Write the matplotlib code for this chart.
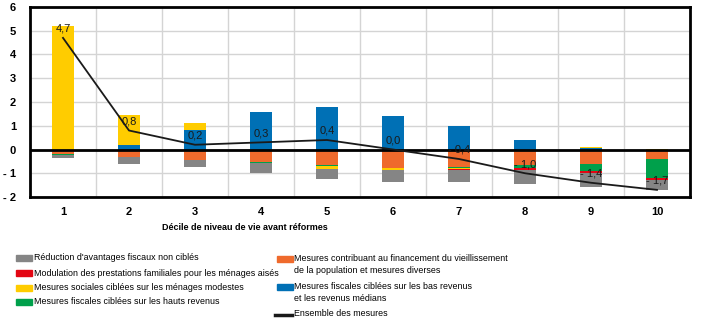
import matplotlib
matplotlib.use("Agg")
import matplotlib.pyplot as plt
from matplotlib.patches import Rectangle
from matplotlib.lines import Line2D
import numpy as np

plt.rcParams['font.family'] = ['Liberation Sans', 'DejaVu Sans']

# deciles of living standard
deciles = ['1', '2', '3', '4', '5', '6', '7', '8', '9', '10']

# contributions by type of measure (points of living standard)
reduction = [-0.12, -0.28, -0.31, -0.42, -0.44, -0.52, -0.52, -0.60, -0.56, -0.42]
modulation = [-0.02, 0, 0, 0, 0, 0, -0.05, -0.10, -0.09, -0.11]
sociales = [5.22, 1.25, 0.26, 0, -0.10, -0.06, -0.05, 0, 0.04, 0.03]
hauts_rev = [-0.03, 0, 0, -0.04, -0.04, -0.03, -0.04, -0.10, -0.31, -0.80]
vieillissement = [-0.20, -0.32, -0.43, -0.52, -0.67, -0.76, -0.72, -0.67, -0.60, -0.39]
bas_rev = [0, 0.21, 0.84, 1.56, 1.77, 1.43, 0.97, 0.38, 0.06, 0]
ensemble = [4.7, 0.8, 0.2, 0.3, 0.4, 0.0, -0.4, -1.0, -1.4, -1.7]

c_gray = '#858585'
c_red = '#e30613'
c_yellow = '#ffcc00'
c_green = '#00a04b'
c_orange = '#ef6a2c'
c_blue = '#0070b5'

fig = plt.figure(figsize=(7.19, 3.24), dpi=100)
ax = fig.add_axes([30 / 719, 127 / 324, 660 / 719, 190 / 324])

x = np.arange(len(deciles))
width = 0.32

# stacking order away from zero
series = [
    (vieillissement, c_orange),
    (bas_rev, c_blue),
    (hauts_rev, c_green),
    (sociales, c_yellow),
    (modulation, c_red),
    (reduction, c_gray),
]
pos_bottom = np.zeros(len(x))
neg_bottom = np.zeros(len(x))
for vals, col in series:
    v = np.array(vals, dtype=float)
    pos = np.where(v > 0, v, 0)
    neg = np.where(v < 0, v, 0)
    ax.bar(x, pos, width, bottom=pos_bottom, color=col, zorder=2)
    ax.bar(x, neg, width, bottom=neg_bottom, color=col, zorder=2)
    pos_bottom += pos
    neg_bottom += neg

ax.axhline(0, color='black', lw=2, zorder=3)
ax.plot(x, ensemble, color='#1a1a1a', lw=1.3, zorder=4)

for xi, v in zip(x, ensemble):
    if v < 0:
        txt = '- ' + ('%.1f' % abs(v)).replace('.', ',')
    else:
        txt = ('%.1f' % v).replace('.', ',')
    ax.annotate(txt, xy=(xi, v), xytext=(0, 3), textcoords='offset points',
                ha='center', va='bottom', fontsize=8, color='#1a1a1a', zorder=5)

ax.set_xlim(-0.5, 9.5)
ax.set_ylim(-2, 6)
ax.set_yticks(range(-2, 7))
ax.set_yticklabels(['- 2', '- 1', '0', '1', '2', '3', '4', '5', '6'])
ax.set_xticks(x)
ax.set_xticklabels(deciles)
ax.set_xticks(np.arange(0.5, 9.5, 1), minor=True)
ax.tick_params(which='both', length=0)
ax.tick_params(axis='y', pad=10, labelsize=8)
ax.tick_params(axis='x', pad=7, labelsize=8)
for lab in ax.get_xticklabels() + ax.get_yticklabels():
    lab.set_fontweight('bold')
ax.grid(axis='y', which='major', color='#d4d4d4', lw=1, zorder=0)
ax.grid(axis='x', which='minor', color='#d4d4d4', lw=1, zorder=0)
ax.set_axisbelow(True)
for sp in ax.spines.values():
    sp.set_linewidth(2)
    sp.set_color('black')

fig.text(245 / 719, 1 - 227 / 324, 'Décile de niveau de vie avant réformes',
         ha='center', va='center', fontsize=6.5, fontweight='bold')

# legend drawn by hand (two columns)
def fx(px):
    return px / 719

def fy(py):
    return 1 - py / 324

fs = 6.4
left_items = [
    (c_gray, 'Réduction d\'avantages fiscaux non ciblés', 258),
    (c_red, 'Modulation des prestations familiales pour les ménages aisés', 273),
    (c_yellow, 'Mesures sociales ciblées sur les ménages modestes', 288),
    (c_green, 'Mesures fiscales ciblées sur les hauts revenus', 302),
]
right_items = [
    (c_orange, 'Mesures contribuant au financement du vieillissement\nde la population et mesures diverses', 259),
    (c_blue, 'Mesures fiscales ciblées sur les bas revenus\net les revenus médians', 287),
]
for col, label, py in left_items:
    fig.patches.append(Rectangle((fx(16), fy(py + 3)), fx(16), 6 / 324,
                                 transform=fig.transFigure, color=col))
    fig.text(fx(34), fy(py), label, ha='left', va='center', fontsize=fs)
for col, label, py in right_items:
    fig.patches.append(Rectangle((fx(277), fy(py + 3)), fx(16), 6 / 324,
                                 transform=fig.transFigure, color=col))
    fig.text(fx(294), fy(py - 5), label, ha='left', va='top', fontsize=fs,
             linespacing=1.45)
fig.lines.append(Line2D([fx(275), fx(292)], [fy(315), fy(315)],
                        transform=fig.transFigure, color='#1a1a1a', lw=2.5))
fig.text(fx(294), fy(314), 'Ensemble des mesures', ha='left', va='center', fontsize=fs)

fig.savefig('out.png', dpi=100)
